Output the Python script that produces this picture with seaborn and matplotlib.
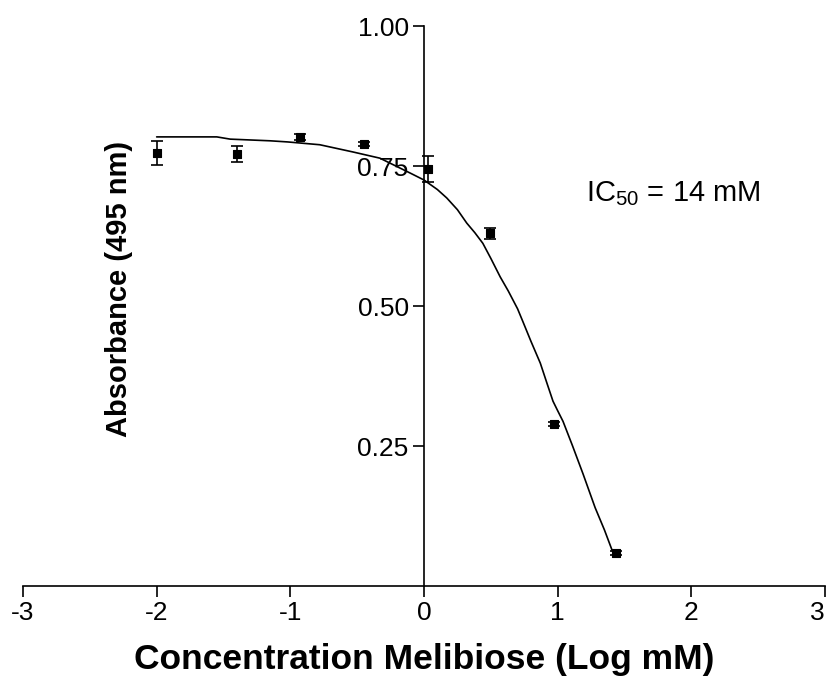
import matplotlib
matplotlib.use("Agg")
import matplotlib.pyplot as plt
import seaborn as sns
import pandas as pd

# measured points (log mM) with mean absorbance and error
log_conc = [-2.00, -1.40, -0.93, -0.45, 0.03, 0.49, 0.97, 1.44]
absorbance = [0.773, 0.772, 0.802, 0.789, 0.745, 0.630, 0.289, 0.059]
abs_err = [0.022, 0.014, 0.005, 0.004, 0.023, 0.010, 0.004, 0.004]

# fitted curve
fit_x = [-2.00, -1.55, -1.45, -1.15, -1.02, -0.78, -0.53, -0.33, -0.10, 0.00,
         0.10, 0.17, 0.25, 0.32, 0.38, 0.44, 0.50, 0.57, 0.63, 0.70, 0.74,
         0.80, 0.87, 0.92, 0.965, 1.00, 1.04, 1.11, 1.19, 1.28, 1.35, 1.41]
fit_y = [0.802, 0.802, 0.798, 0.795, 0.793, 0.788, 0.775, 0.764, 0.737, 0.725,
         0.708, 0.693, 0.672, 0.648, 0.631, 0.612, 0.585, 0.552, 0.527, 0.495,
         0.472, 0.437, 0.398, 0.362, 0.330, 0.313, 0.294, 0.251, 0.200, 0.140,
         0.100, 0.062]

x_ticks = [-3, -2, -1, 0, 1, 2, 3]
y_ticks = [0.25, 0.50, 0.75, 1.00]

sns.set_style("ticks", {'axes.edgecolor': 'black', 'text.color': 'black',
                        'axes.labelcolor': 'black', 'xtick.color': 'black',
                        'ytick.color': 'black'})
plt.rcParams['font.family'] = ['Liberation Sans', 'DejaVu Sans']
plt.rcParams['mathtext.fontset'] = 'custom'
plt.rcParams['mathtext.rm'] = 'Liberation Sans'

points = pd.DataFrame({'x': log_conc, 'y': absorbance})
curve = pd.DataFrame({'x': fit_x, 'y': fit_y})

fig = plt.figure(figsize=(8.3, 6.81), dpi=100)
ax = fig.add_axes([0.0277, 0.1395, 0.9663, 0.8223])

sns.lineplot(data=curve, x='x', y='y', color='black', linewidth=1.2, ax=ax,
             estimator=None, sort=False)
ax.errorbar(log_conc, absorbance, yerr=abs_err, fmt='none', ecolor='black',
            elinewidth=1.2, capsize=4, capthick=1.2, zorder=3)
sns.scatterplot(data=points, x='x', y='y', marker='s', color='black', s=40,
                edgecolor='black', linewidth=0.8, ax=ax, zorder=4)

ax.set_xlim(-3, 3)
ax.set_ylim(0, 1.0)
ax.set_xticks(x_ticks)
ax.set_xticklabels([str(t) for t in x_ticks])
ax.set_yticks(y_ticks)
ax.set_yticklabels(['%.2f' % t for t in y_ticks])

ax.spines['left'].set_position(('data', 0))
ax.spines['right'].set_visible(False)
ax.spines['top'].set_visible(False)
for s in ['left', 'bottom']:
    ax.spines[s].set_linewidth(1.2)
ax.tick_params(axis='both', direction='out', length=8, width=1.2,
               labelsize=19, pad=3, colors='black')
ax.tick_params(axis='x', pad=3)
# keep the last label inside the figure edge
ax.get_xticklabels()[-1].set_horizontalalignment('right')

ax.set_xlabel('Concentration Melibiose (Log mM)', fontsize=25.5,
              fontweight='bold', va='center', color='black')
ax.xaxis.set_label_coords(0.5, -0.132)
ax.set_ylabel('')
fig.text(0.143, 0.575, 'Absorbance (495 nm)', rotation=90, fontsize=21,
         fontweight='bold', ha='center', va='center', color='black')

ax.text(1.21, 0.70, r'IC$_{50}$ = 14 mM', fontsize=21, ha='left', va='center',
        color='black')

fig.savefig('out.png', dpi=100)
